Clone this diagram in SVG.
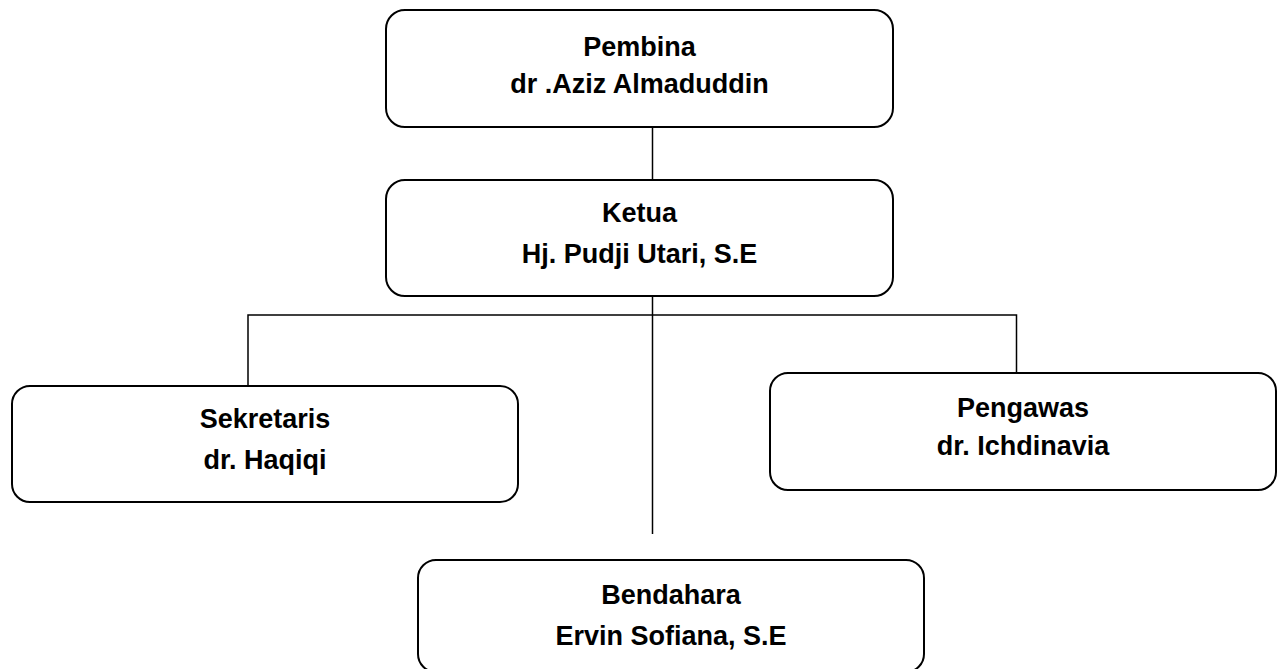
<svg xmlns="http://www.w3.org/2000/svg" width="1282" height="669" viewBox="0 0 1282 669">
<style>
.box{fill:#fff;stroke:#000;stroke-width:2}
.ln{fill:none;stroke:#000;stroke-width:1.5}
text{font-family:"Liberation Sans",Arial,sans-serif;font-weight:bold;font-size:27px;fill:#000;text-anchor:middle}
</style>
<rect width="1282" height="669" fill="#fff"/>
<g id="connectors">
<line class="ln" x1="652.5" y1="127" x2="652.5" y2="180"/>
<line class="ln" x1="652.5" y1="296" x2="652.5" y2="534"/>
<polyline class="ln" points="248,386 248,315 1016.5,315 1016.5,373"/>
</g>
<g id="pembina">
<rect class="box" x="386" y="10" width="507" height="117" rx="19"/>
<text x="639.5" y="56">Pembina</text>
<text x="639.5" y="93">dr .Aziz Almaduddin</text>
</g>
<g id="ketua">
<rect class="box" x="386" y="180" width="507" height="116" rx="19"/>
<text x="639.5" y="222">Ketua</text>
<text x="639.5" y="263">Hj. Pudji Utari, S.E</text>
</g>
<g id="sekretaris">
<rect class="box" x="12" y="386" width="506" height="116" rx="18"/>
<text x="265" y="428">Sekretaris</text>
<text x="265" y="469">dr. Haqiqi</text>
</g>
<g id="pengawas">
<rect class="box" x="770" y="373" width="506" height="117" rx="18"/>
<text x="1023" y="417">Pengawas</text>
<text x="1023" y="455">dr. Ichdinavia</text>
</g>
<g id="bendahara">
<rect class="box" x="418" y="560" width="506" height="112" rx="18"/>
<text x="671" y="604">Bendahara</text>
<text x="671" y="645">Ervin Sofiana, S.E</text>
</g>
</svg>
